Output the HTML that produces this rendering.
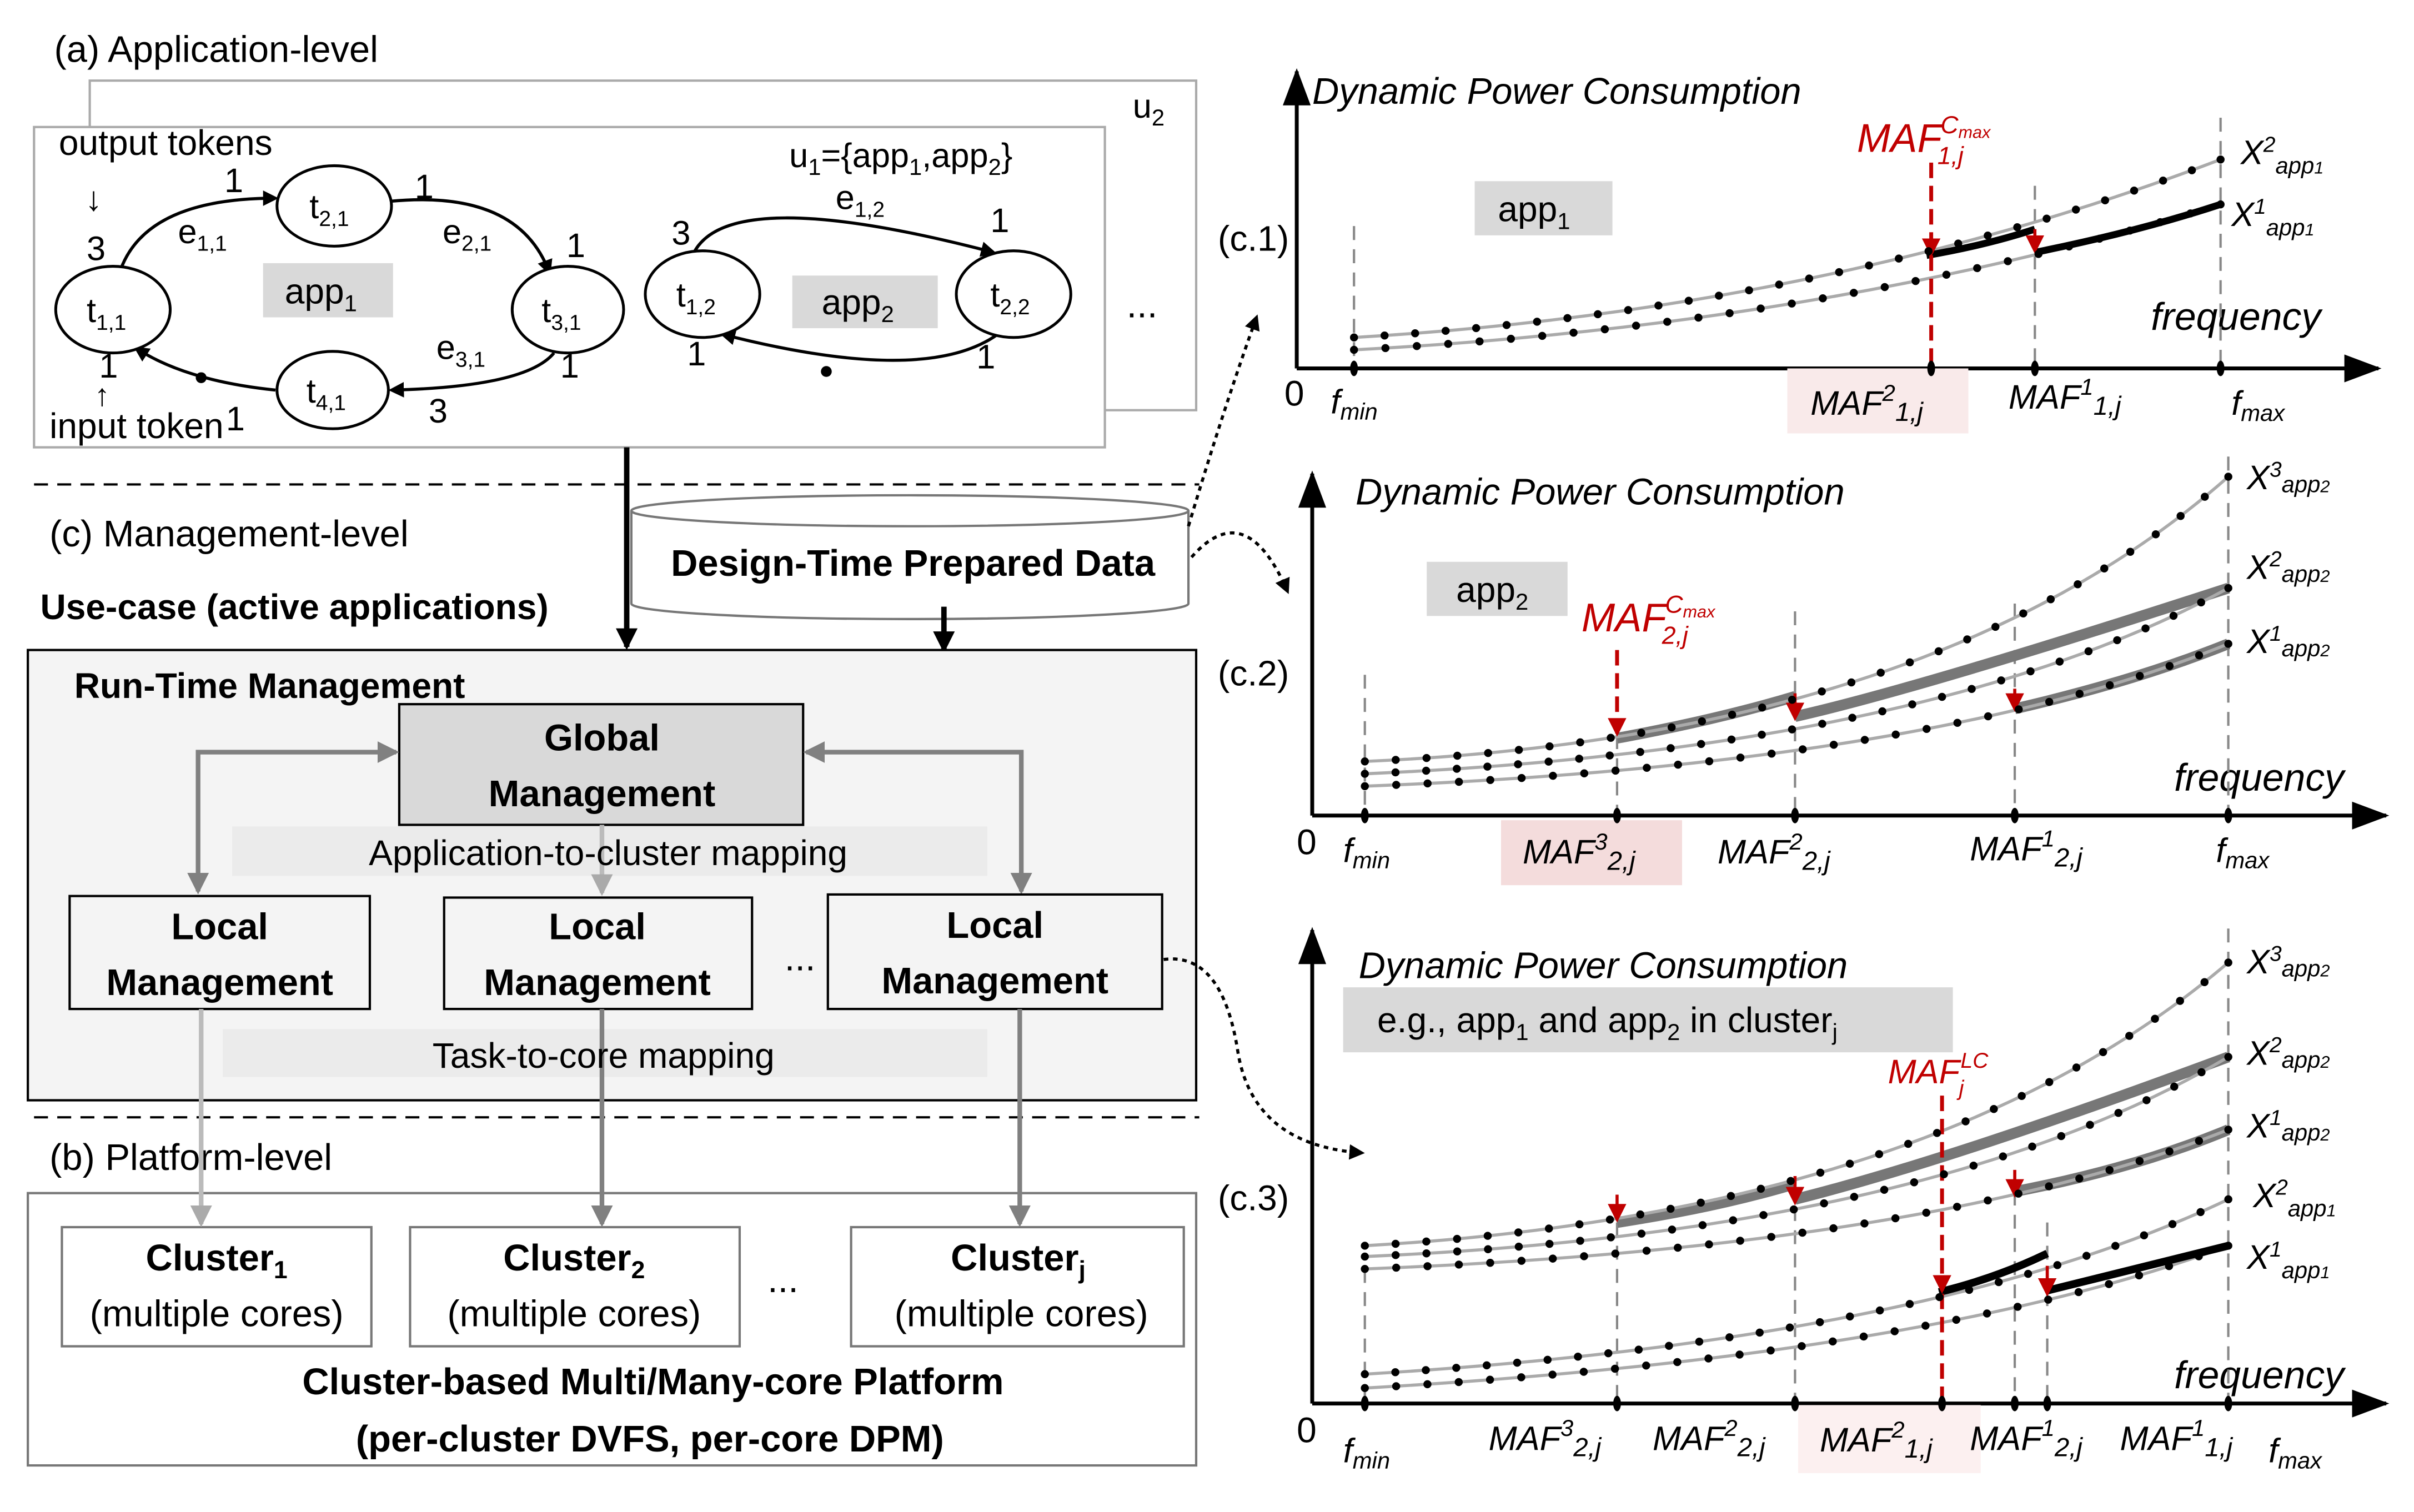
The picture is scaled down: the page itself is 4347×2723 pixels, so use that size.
<!DOCTYPE html>
<html><head><meta charset="utf-8"><style>
html,body{margin:0;padding:0;background:#fff;}
svg{display:block;}
text{font-family:"Liberation Sans",sans-serif;}
.m{font-family:"Liberation Serif",serif;font-style:italic;}
.b{font-weight:bold;}
</style></head><body>
<svg id="s" width="4347" height="2723" viewBox="0 0 1560 977" xmlns="http://www.w3.org/2000/svg">
<defs>
<marker id="ak" markerWidth="10" markerHeight="10" refX="8" refY="5" orient="auto" markerUnits="userSpaceOnUse"><path d="M0,0 L10,5 L0,10 Z" fill="#000"/></marker>
<marker id="ab" markerWidth="14" markerHeight="14" refX="12" refY="7" orient="auto" markerUnits="userSpaceOnUse"><path d="M0,0 L14,7 L0,14 Z" fill="#000"/></marker>
<marker id="ag" markerWidth="14" markerHeight="14" refX="12" refY="7" orient="auto-start-reverse" markerUnits="userSpaceOnUse"><path d="M0,0 L14,7 L0,14 Z" fill="#808080"/></marker>
<marker id="agl" markerWidth="14" markerHeight="14" refX="12" refY="7" orient="auto" markerUnits="userSpaceOnUse"><path d="M0,0 L14,7 L0,14 Z" fill="#aaa"/></marker>
<marker id="ar" markerWidth="12" markerHeight="12" refX="10" refY="6" orient="auto" markerUnits="userSpaceOnUse"><path d="M0,0 L12,6 L0,12 Z" fill="#c00000"/></marker>
<marker id="ax" markerWidth="24" markerHeight="18" refX="22" refY="9" orient="auto" markerUnits="userSpaceOnUse"><path d="M0,0 L24,9 L0,18 Z" fill="#000"/></marker>
</defs>

<!-- (a) -->
<text x="35" y="40" font-size="24">(a) Application-level</text>
<rect x="58" y="52" width="715" height="213" fill="#fff" stroke="#aaa" stroke-width="1.5"/>
<text x="732" y="76" font-size="22">u<tspan font-size="15" dy="5">2</tspan></text>
<rect x="22" y="82" width="692" height="207" fill="#fff" stroke="#aaa" stroke-width="1.5"/>
<text x="38" y="100" font-size="23">output tokens</text>
<text x="55" y="136" font-size="22">↓</text>
<text x="32" y="283" font-size="23">input token</text>
<text x="61" y="262" font-size="20">↑</text>
<rect x="170" y="170" width="84" height="35" fill="#d9d9d9"/>
<text x="184" y="196" font-size="23">app<tspan font-size="15" dy="5">1</tspan></text>
<rect x="512" y="178" width="94" height="34" fill="#d9d9d9"/>
<text x="531" y="203" font-size="23">app<tspan font-size="15" dy="5">2</tspan></text>
<text x="510" y="108" font-size="22">u<tspan font-size="15" dy="5">1</tspan><tspan dy="-5">={app</tspan><tspan font-size="15" dy="5">1</tspan><tspan dy="-5">,app</tspan><tspan font-size="15" dy="5">2</tspan><tspan dy="-5">}</tspan></text>
<text x="728" y="205" font-size="24">...</text>

<g fill="none" stroke="#000" stroke-width="2">
<path d="M78,174 Q95,128 178,128" marker-end="url(#ak)"/>
<path d="M252,130 Q335,122 355,176" marker-end="url(#ak)"/>
<path d="M358,228 Q340,250 253,252" marker-end="url(#ak)"/>
<path d="M178,252 Q120,246 88,225" marker-end="url(#ak)"/>
<path d="M448,164 Q470,118 642,163" marker-end="url(#ak)"/>
<path d="M646,215 Q600,250 467,216" marker-end="url(#ak)"/>
</g>
<circle cx="130" cy="244" r="3.5"/><circle cx="534" cy="240" r="3.5"/>
<g fill="#fff" stroke="#000" stroke-width="1.8">
<ellipse cx="73" cy="200" rx="37" ry="28"/>
<ellipse cx="216" cy="133" rx="37" ry="26"/>
<ellipse cx="367" cy="200" rx="36" ry="28"/>
<ellipse cx="215" cy="252" rx="36" ry="25"/>
<ellipse cx="454" cy="190" rx="37" ry="28"/>
<ellipse cx="655" cy="190" rx="37" ry="28"/>
</g>
<g font-size="22">
<text x="56" y="208">t<tspan font-size="14" dy="5">1,1</tspan></text>
<text x="200" y="141">t<tspan font-size="14" dy="5">2,1</tspan></text>
<text x="350" y="208">t<tspan font-size="14" dy="5">3,1</tspan></text>
<text x="198" y="260">t<tspan font-size="14" dy="5">4,1</tspan></text>
<text x="437" y="198">t<tspan font-size="14" dy="5">1,2</tspan></text>
<text x="640" y="198">t<tspan font-size="14" dy="5">2,2</tspan></text>
<text x="115" y="157">e<tspan font-size="14" dy="5">1,1</tspan></text>
<text x="286" y="157">e<tspan font-size="14" dy="5">2,1</tspan></text>
<text x="282" y="232">e<tspan font-size="14" dy="5">3,1</tspan></text>
<text x="540" y="135">e<tspan font-size="14" dy="5">1,2</tspan></text>
<text x="56" y="168">3</text><text x="145" y="124">1</text><text x="268" y="128">1</text><text x="366" y="166">1</text>
<text x="362" y="244">1</text><text x="277" y="273">3</text><text x="146" y="278">1</text><text x="64" y="244">1</text>
<text x="434" y="158">3</text><text x="640" y="150">1</text><text x="631" y="238">1</text><text x="444" y="236">1</text>
</g>

<line x1="22" y1="313" x2="775" y2="313" stroke="#000" stroke-width="1.5" stroke-dasharray="9,6"/>
<line x1="22" y1="722" x2="775" y2="722" stroke="#000" stroke-width="1.5" stroke-dasharray="9,6"/>

<!-- (c) management -->
<text x="32" y="353" font-size="24">(c) Management-level</text>
<text x="26" y="400" font-size="23" class="b">Use-case (active applications)</text>
<line x1="405" y1="289" x2="405" y2="418" stroke="#000" stroke-width="3.5" marker-end="url(#ab)"/>
<path d="M408,330 L408,390 A180,10 0 0 0 768,390 L768,330" fill="#fff" stroke="#777" stroke-width="1.5"/>
<ellipse cx="588" cy="330" rx="180" ry="10" fill="#fff" stroke="#777" stroke-width="1.5"/>
<text x="590" y="372" font-size="24" class="b" text-anchor="middle">Design-Time Prepared Data</text>
<line x1="610" y1="392" x2="610" y2="420" stroke="#000" stroke-width="3.5" marker-end="url(#ab)"/>

<rect x="18" y="420" width="755" height="291" fill="#f4f4f4" stroke="#000" stroke-width="1.5"/>
<text x="48" y="451" font-size="23" class="b">Run-Time Management</text>
<rect x="258" y="455" width="261" height="78" fill="#d9d9d9" stroke="#000" stroke-width="1.5"/>
<text x="389" y="485" font-size="24" class="b" text-anchor="middle">Global</text>
<text x="389" y="521" font-size="24" class="b" text-anchor="middle">Management</text>
<g fill="none" stroke="#808080" stroke-width="3">
<path d="M256,486 L128,486 L128,576" marker-start="url(#ag)" marker-end="url(#ag)"/>
<path d="M521,486 L660,486 L660,576" marker-start="url(#ag)" marker-end="url(#ag)"/>
</g>
<rect x="150" y="534" width="488" height="32" fill="#ebebeb"/>
<line x1="389" y1="533" x2="389" y2="577" stroke="#bbb" stroke-width="3" marker-end="url(#agl)"/>
<text x="393" y="559" font-size="23" text-anchor="middle">Application-to-cluster mapping</text>
<g fill="#f4f4f4" stroke="#000" stroke-width="1.5">
<rect x="45" y="579" width="194" height="73"/>
<rect x="287" y="580" width="199" height="72"/>
<rect x="535" y="578" width="216" height="74"/>
</g>
<g font-size="24" class="b" text-anchor="middle">
<text x="142" y="607">Local</text><text x="142" y="643">Management</text>
<text x="386" y="607">Local</text><text x="386" y="643">Management</text>
<text x="643" y="606">Local</text><text x="643" y="642">Management</text>
</g>
<text x="507" y="627" font-size="24">...</text>
<rect x="144" y="665" width="494" height="31" fill="#ebebeb"/>

<!-- (b) -->
<text x="32" y="756" font-size="24">(b) Platform-level</text>
<rect x="18" y="771" width="755" height="176" fill="#fff" stroke="#777" stroke-width="1.5"/>
<g fill="#fff" stroke="#777" stroke-width="1.5">
<rect x="40" y="793" width="200" height="77"/>
<rect x="265" y="793" width="213" height="77"/>
<rect x="550" y="793" width="215" height="77"/>
</g>
<line x1="130" y1="652" x2="130" y2="791" stroke="#bbb" stroke-width="3" marker-end="url(#agl)"/>
<line x1="389" y1="652" x2="389" y2="791" stroke="#808080" stroke-width="3" marker-end="url(#ag)"/>
<line x1="659" y1="652" x2="659" y2="791" stroke="#808080" stroke-width="3" marker-end="url(#ag)"/>
<text x="390" y="690" font-size="23" text-anchor="middle">Task-to-core mapping</text>
<g font-size="24" text-anchor="middle">
<text x="140" y="821" class="b">Cluster<tspan font-size="16" dy="5">1</tspan></text>
<text x="140" y="857">(multiple cores)</text>
<text x="371" y="821" class="b">Cluster<tspan font-size="16" dy="5">2</tspan></text>
<text x="371" y="857">(multiple cores)</text>
<text x="658" y="821" class="b">Cluster<tspan font-size="16" dy="5">j</tspan></text>
<text x="660" y="857">(multiple cores)</text>
<text x="422" y="901" class="b">Cluster-based Multi/Many-core Platform</text>
<text x="420" y="938" class="b">(per-cluster DVFS, per-core DPM)</text>
</g>
<text x="496" y="835" font-size="24">...</text>

<!-- dotted connectors -->
<g fill="none" stroke="#000" stroke-width="2" stroke-dasharray="3,3">
<path d="M768,340 Q792,260 812,205" marker-end="url(#ak)"/>
<path d="M770,360 Q805,320 832,382" marker-end="url(#ak)"/>
<path d="M752,620 Q790,615 800,680 Q810,740 880,745" marker-end="url(#ak)"/>
</g>

<!-- c.1 -->
<text x="787" y="162" font-size="23">(c.1)</text>
<line x1="838" y1="238" x2="838" y2="46" stroke="#000" stroke-width="2.5" marker-end="url(#ax)"/>
<line x1="838" y1="238" x2="1537" y2="238" stroke="#000" stroke-width="2.5" marker-end="url(#ax)"/>
<text x="848" y="67" font-size="24" font-style="italic">Dynamic Power Consumption</text>
<rect x="953" y="117" width="89" height="35" fill="#d9d9d9"/>
<text x="968" y="143" font-size="23">app<tspan font-size="15" dy="5">1</tspan></text>
<text x="830" y="262" font-size="23">0</text>
<text x="1390" y="213" font-size="25" font-style="italic">frequency</text>
<g stroke="#888" stroke-width="1.5" stroke-dasharray="9,6">
<line x1="875" y1="146" x2="875" y2="238"/><line x1="1315" y1="120" x2="1315" y2="238"/><line x1="1435" y1="76" x2="1435" y2="238"/>
</g>
<path class="dots" d="M875,218 Q1180,200 1435,103" fill="none" stroke="#aaa" stroke-width="2"/>
<path class="dots" d="M875,226 Q1180,210 1435,132" fill="none" stroke="#aaa" stroke-width="2"/>
<path d="M1245,165 Q1285,158 1315,148" fill="none" stroke="#000" stroke-width="4.5"/>
<path d="M1315,163 Q1380,150 1435,132" fill="none" stroke="#000" stroke-width="4.5"/>
<line x1="1248" y1="105" x2="1248" y2="164" stroke="#c00000" stroke-width="2.5" stroke-dasharray="10,5" marker-end="url(#ar)"/>
<line x1="1248" y1="165" x2="1248" y2="238" stroke="#c00000" stroke-width="2.5" stroke-dasharray="10,5"/>
<line x1="1315" y1="148" x2="1315" y2="162" stroke="#c00000" stroke-width="2" marker-end="url(#ar)"/>
<g fill="#c00000" class="m">
<text x="1200" y="98" font-size="26">MAF</text>
<text x="1254" y="86" font-size="16">C<tspan font-size="11" dy="3">max</tspan></text>
<text x="1252" y="106" font-size="16">1,j</text>
</g>
<rect x="1155" y="238" width="117" height="42" fill="#f9eaea"/>
<g font-size="22" class="m">
<text x="860" y="267">f<tspan font-size="15" dy="4">min</tspan></text>
<text x="1170" y="268">MAF<tspan font-size="15" dy="-9">2</tspan><tspan font-size="17" dy="13">1,j</tspan></text>
<text x="1298" y="264">MAF<tspan font-size="15" dy="-9">1</tspan><tspan font-size="17" dy="13">1,j</tspan></text>
<text x="1442" y="268">f<tspan font-size="15" dy="4">max</tspan></text>
<text x="1448" y="106">X<tspan font-size="14" dy="-8">2</tspan><tspan font-size="15" dy="14">app<tspan font-size="11">1</tspan></tspan></text>
<text x="1442" y="146">X<tspan font-size="14" dy="-8">1</tspan><tspan font-size="15" dy="14">app<tspan font-size="11">1</tspan></tspan></text>
</g>

<!-- c.2 -->
<text x="787" y="443" font-size="23">(c.2)</text>
<line x1="848" y1="527" x2="848" y2="306" stroke="#000" stroke-width="2.5" marker-end="url(#ax)"/>
<line x1="848" y1="527" x2="1542" y2="527" stroke="#000" stroke-width="2.5" marker-end="url(#ax)"/>
<text x="876" y="326" font-size="24" font-style="italic">Dynamic Power Consumption</text>
<rect x="922" y="363" width="91" height="35" fill="#d9d9d9"/>
<text x="941" y="389" font-size="23">app<tspan font-size="15" dy="5">2</tspan></text>
<text x="838" y="552" font-size="23">0</text>
<text x="1405" y="511" font-size="25" font-style="italic">frequency</text>
<g stroke="#888" stroke-width="1.5" stroke-dasharray="9,6">
<line x1="882" y1="436" x2="882" y2="527"/><line x1="1160" y1="395" x2="1160" y2="527"/><line x1="1302" y1="390" x2="1302" y2="527"/><line x1="1440" y1="295" x2="1440" y2="527"/>
<line x1="1045" y1="475" x2="1045" y2="527"/>
</g>
<path d="M1045,477 Q1110,465 1160,450" fill="none" stroke="#777" stroke-width="7"/>
<path d="M1160,463 Q1240,445 1440,380" fill="none" stroke="#777" stroke-width="7"/>
<path d="M1302,458 Q1380,440 1440,416" fill="none" stroke="#777" stroke-width="7"/>
<path class="dots" d="M882,492 Q1250,476 1440,308" fill="none" stroke="#aaa" stroke-width="2"/>
<path class="dots" d="M882,500 Q1250,484 1440,380" fill="none" stroke="#aaa" stroke-width="2"/>
<path class="dots" d="M882,508 Q1250,494 1440,416" fill="none" stroke="#aaa" stroke-width="2"/>
<line x1="1045" y1="420" x2="1045" y2="474" stroke="#c00000" stroke-width="2.5" stroke-dasharray="10,5" marker-end="url(#ar)"/>
<line x1="1160" y1="448" x2="1160" y2="464" stroke="#c00000" stroke-width="2" marker-end="url(#ar)"/>
<line x1="1302" y1="445" x2="1302" y2="458" stroke="#c00000" stroke-width="2" marker-end="url(#ar)"/>
<g fill="#c00000" class="m">
<text x="1022" y="408" font-size="26">MAF</text>
<text x="1076" y="396" font-size="16">C<tspan font-size="11" dy="3">max</tspan></text>
<text x="1074" y="416" font-size="16">2,j</text>
</g>
<rect x="970" y="530" width="117" height="42" fill="#f4dcdc"/>
<g font-size="22" class="m">
<text x="868" y="557">f<tspan font-size="15" dy="4">min</tspan></text>
<text x="984" y="558">MAF<tspan font-size="15" dy="-9">3</tspan><tspan font-size="17" dy="13">2,j</tspan></text>
<text x="1110" y="558">MAF<tspan font-size="15" dy="-9">2</tspan><tspan font-size="17" dy="13">2,j</tspan></text>
<text x="1273" y="556">MAF<tspan font-size="15" dy="-9">1</tspan><tspan font-size="17" dy="13">2,j</tspan></text>
<text x="1432" y="557">f<tspan font-size="15" dy="4">max</tspan></text>
<text x="1452" y="316">X<tspan font-size="14" dy="-8">3</tspan><tspan font-size="15" dy="10">app<tspan font-size="11">2</tspan></tspan></text>
<text x="1452" y="374">X<tspan font-size="14" dy="-8">2</tspan><tspan font-size="15" dy="10">app<tspan font-size="11">2</tspan></tspan></text>
<text x="1452" y="422">X<tspan font-size="14" dy="-8">1</tspan><tspan font-size="15" dy="10">app<tspan font-size="11">2</tspan></tspan></text>
</g>

<!-- c.3 -->
<text x="787" y="782" font-size="23">(c.3)</text>
<line x1="848" y1="907" x2="848" y2="601" stroke="#000" stroke-width="2.5" marker-end="url(#ax)"/>
<line x1="848" y1="907" x2="1542" y2="907" stroke="#000" stroke-width="2.5" marker-end="url(#ax)"/>
<text x="878" y="632" font-size="24" font-style="italic">Dynamic Power Consumption</text>
<rect x="868" y="638" width="394" height="42" fill="#d9d9d9"/>
<text x="890" y="667" font-size="23">e.g., app<tspan font-size="15" dy="5">1</tspan><tspan dy="-5"> and app</tspan><tspan font-size="15" dy="5">2</tspan><tspan dy="-5"> in cluster</tspan><tspan font-size="15" dy="5">j</tspan></text>
<text x="838" y="932" font-size="23">0</text>
<text x="1405" y="897" font-size="25" font-style="italic">frequency</text>
<g stroke="#888" stroke-width="1.5" stroke-dasharray="9,6">
<line x1="882" y1="820" x2="882" y2="907"/><line x1="1045" y1="790" x2="1045" y2="907"/><line x1="1160" y1="780" x2="1160" y2="907"/>
<line x1="1302" y1="770" x2="1302" y2="907"/><line x1="1323" y1="790" x2="1323" y2="907"/><line x1="1440" y1="600" x2="1440" y2="907"/>
</g>
<path d="M1045,790 Q1110,780 1160,765" fill="none" stroke="#777" stroke-width="7"/>
<path d="M1160,775 Q1260,750 1440,683" fill="none" stroke="#777" stroke-width="7"/>
<path d="M1302,770 Q1380,755 1440,730" fill="none" stroke="#777" stroke-width="7"/>
<path class="dots" d="M882,805 Q1250,784 1440,622" fill="none" stroke="#aaa" stroke-width="2"/>
<path class="dots" d="M882,812 Q1250,796 1440,683" fill="none" stroke="#aaa" stroke-width="2"/>
<path class="dots" d="M882,820 Q1250,806 1440,730" fill="none" stroke="#aaa" stroke-width="2"/>
<path class="dots" d="M882,888 Q1250,866 1440,775" fill="none" stroke="#aaa" stroke-width="2"/>
<path class="dots" d="M882,897 Q1250,876 1440,805" fill="none" stroke="#aaa" stroke-width="2"/>
<path d="M1253,835 Q1290,826 1323,810" fill="none" stroke="#000" stroke-width="5"/>
<path d="M1323,834 Q1380,820 1440,805" fill="none" stroke="#000" stroke-width="5"/>
<line x1="1255" y1="708" x2="1255" y2="834" stroke="#c00000" stroke-width="2.5" stroke-dasharray="10,5" marker-end="url(#ar)"/>
<line x1="1255" y1="836" x2="1255" y2="907" stroke="#c00000" stroke-width="2.5" stroke-dasharray="10,5"/>
<line x1="1045" y1="772" x2="1045" y2="788" stroke="#c00000" stroke-width="2" marker-end="url(#ar)"/>
<line x1="1160" y1="760" x2="1160" y2="777" stroke="#c00000" stroke-width="2" marker-end="url(#ar)"/>
<line x1="1302" y1="756" x2="1302" y2="772" stroke="#c00000" stroke-width="2" marker-end="url(#ar)"/>
<line x1="1323" y1="818" x2="1323" y2="836" stroke="#c00000" stroke-width="2" marker-end="url(#ar)"/>
<g fill="#c00000" class="m">
<text x="1220" y="700" font-size="22">MAF</text>
<text x="1267" y="690" font-size="14">LC</text>
<text x="1266" y="708" font-size="14">j</text>
</g>
<rect x="1162" y="908" width="118" height="44" fill="#fcf0f0"/>
<g font-size="22" class="m">
<text x="868" y="945">f<tspan font-size="15" dy="4">min</tspan></text>
<text x="962" y="937">MAF<tspan font-size="15" dy="-9">3</tspan><tspan font-size="17" dy="13">2,j</tspan></text>
<text x="1068" y="937">MAF<tspan font-size="15" dy="-9">2</tspan><tspan font-size="17" dy="13">2,j</tspan></text>
<text x="1176" y="938">MAF<tspan font-size="15" dy="-9">2</tspan><tspan font-size="17" dy="13">1,j</tspan></text>
<text x="1273" y="937">MAF<tspan font-size="15" dy="-9">1</tspan><tspan font-size="17" dy="13">2,j</tspan></text>
<text x="1370" y="937">MAF<tspan font-size="15" dy="-9">1</tspan><tspan font-size="17" dy="13">1,j</tspan></text>
<text x="1466" y="945">f<tspan font-size="15" dy="4">max</tspan></text>
<text x="1452" y="629">X<tspan font-size="14" dy="-8">3</tspan><tspan font-size="15" dy="10">app<tspan font-size="11">2</tspan></tspan></text>
<text x="1452" y="688">X<tspan font-size="14" dy="-8">2</tspan><tspan font-size="15" dy="10">app<tspan font-size="11">2</tspan></tspan></text>
<text x="1452" y="735">X<tspan font-size="14" dy="-8">1</tspan><tspan font-size="15" dy="10">app<tspan font-size="11">2</tspan></tspan></text>
<text x="1456" y="780">X<tspan font-size="14" dy="-8">2</tspan><tspan font-size="15" dy="14">app<tspan font-size="11">1</tspan></tspan></text>
<text x="1452" y="820">X<tspan font-size="14" dy="-8">1</tspan><tspan font-size="15" dy="14">app<tspan font-size="11">1</tspan></tspan></text>
</g>
<!-- axis tick marks -->
<g fill="#000">
<ellipse cx="875" cy="238" rx="2.5" ry="5"/><ellipse cx="1248" cy="238" rx="2.5" ry="5"/><ellipse cx="1315" cy="238" rx="2.5" ry="5"/><ellipse cx="1435" cy="238" rx="2.5" ry="5"/>
<ellipse cx="882" cy="527" rx="2.5" ry="5"/><ellipse cx="1045" cy="527" rx="2.5" ry="5"/><ellipse cx="1160" cy="527" rx="2.5" ry="5"/><ellipse cx="1302" cy="527" rx="2.5" ry="5"/><ellipse cx="1440" cy="527" rx="2.5" ry="5"/>
<ellipse cx="882" cy="907" rx="2.5" ry="5"/><ellipse cx="1045" cy="907" rx="2.5" ry="5"/><ellipse cx="1160" cy="907" rx="2.5" ry="5"/><ellipse cx="1255" cy="907" rx="2.5" ry="5"/><ellipse cx="1302" cy="907" rx="2.5" ry="5"/><ellipse cx="1323" cy="907" rx="2.5" ry="5"/><ellipse cx="1440" cy="907" rx="2.5" ry="5"/>
</g>
<g id="dotg" fill="#000"></g>
</svg>
<script>
(function(){
var ns="http://www.w3.org/2000/svg",g=document.getElementById("dotg");
var ps=document.querySelectorAll("path.dots");
for(var i=0;i<ps.length;i++){
 var p=ps[i],L=p.getTotalLength(),n=Math.round(L/20);
 for(var k=0;k<=n;k++){var pt=p.getPointAtLength(L*k/n);
  var c=document.createElementNS(ns,"circle");c.setAttribute("cx",pt.x);c.setAttribute("cy",pt.y);c.setAttribute("r","2.6");g.appendChild(c);}
}
})();
</script>
</body></html>
